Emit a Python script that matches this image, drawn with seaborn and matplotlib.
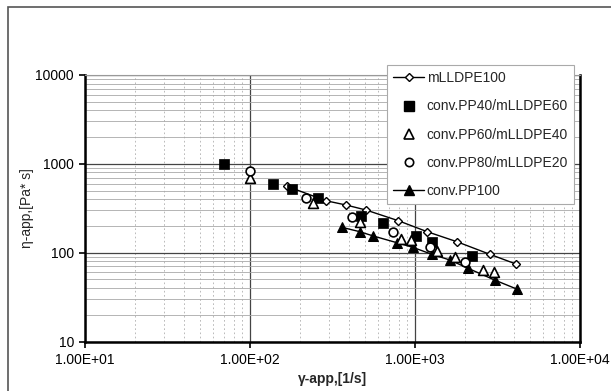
import matplotlib
matplotlib.use("Agg")
import matplotlib.pyplot as plt
from matplotlib.lines import Line2D
from matplotlib.patches import Rectangle
from matplotlib.ticker import LogLocator, FixedLocator, FuncFormatter
import numpy as np
import pandas as pd
import seaborn as sns

# Apparent shear rate [1/s] and apparent viscosity [Pa*s] per blend
rate_mlldpe100 = [167, 289, 382, 505, 792, 1187, 1791, 2848, 4093]
visc_mlldpe100 = [560, 384, 344, 302, 229, 172, 133, 95.7, 74.5]

rate_pp40 = [70, 138, 179, 259, 470, 637, 1014, 1262, 2203]
visc_pp40 = [1000, 590, 520, 415, 260, 214, 154, 133, 92]

rate_pp60 = [100, 240, 464, 822, 942, 1354, 1746, 2571, 3012]
visc_pp60 = [700, 365, 223, 141, 139, 104, 88.5, 63.7, 61]

rate_pp80 = [100, 218, 413, 733, 1233, 2010]
visc_pp80 = [820, 408, 255, 169, 116, 78.8]

rate_pp100 = [360, 464, 559, 782, 968, 1262, 1629, 2103, 3055, 4130]
visc_pp100 = [193, 172, 154, 129, 115, 96, 82.6, 66.5, 49, 39]

series_names = ["mLLDPE100", "conv.PP40/mLLDPE60", "conv.PP60/mLLDPE40",
                "conv.PP80/mLLDPE20", "conv.PP100"]

x_ticks = [1e1, 1e2, 1e3, 1e4]
x_tick_labels = ["1.00E+01", "1.00E+02", "1.00E+03", "1.00E+04"]
y_ticks = [10, 100, 1000, 10000]
y_tick_labels = ["10", "100", "1000", "10000"]

sns.set_theme(style="white")
plt.rcParams["font.family"] = ["Liberation Sans", "DejaVu Sans"]

fig = plt.figure(figsize=(6.11, 3.91), dpi=100)
ax = fig.add_axes([85 / 611, 1 - 341.5 / 391, 495 / 611, 266.5 / 391])

def frame(x, y, name):
    return pd.DataFrame({"rate": x, "visc": y, "series": name})

df1 = frame(rate_mlldpe100, visc_mlldpe100, series_names[0])
df2 = frame(rate_pp40, visc_pp40, series_names[1])
df3 = frame(rate_pp60, visc_pp60, series_names[2])
df4 = frame(rate_pp80, visc_pp80, series_names[3])
df5 = frame(rate_pp100, visc_pp100, series_names[4])

ax.set_xscale("log")
ax.set_yscale("log")

sns.lineplot(data=df1, x="rate", y="visc", ax=ax, color="black", lw=1.0,
             marker="D", markersize=4.5, markerfacecolor="white",
             markeredgecolor="black", markeredgewidth=1.0, zorder=5,
             sort=False, estimator=None)
sns.lineplot(data=df5, x="rate", y="visc", ax=ax, color="black", lw=1.0,
             marker="^", markersize=7, markerfacecolor="black",
             markeredgecolor="black", zorder=5, sort=False, estimator=None)
sns.scatterplot(data=df2, x="rate", y="visc", ax=ax, marker="s", s=60,
                color="black", edgecolor="black", linewidth=0.5, zorder=6)
sns.scatterplot(data=df3, x="rate", y="visc", ax=ax, marker="^", s=50,
                facecolor="white", edgecolor="black", linewidth=1.2, zorder=6)
sns.scatterplot(data=df4, x="rate", y="visc", ax=ax, marker="o", s=40,
                facecolor="white", edgecolor="black", linewidth=1.2, zorder=6)

ax.set_xlim(1e1, 1e4)
ax.set_ylim(10, 10000)

ax.xaxis.set_major_locator(FixedLocator(x_ticks))
ax.xaxis.set_major_formatter(FuncFormatter(lambda v, p: x_tick_labels[x_ticks.index(v)] if v in x_ticks else ""))
ax.yaxis.set_major_locator(FixedLocator(y_ticks))
ax.yaxis.set_major_formatter(FuncFormatter(lambda v, p: y_tick_labels[y_ticks.index(v)] if v in y_ticks else ""))
ax.xaxis.set_minor_locator(LogLocator(base=10, subs=np.arange(2, 10)))
ax.yaxis.set_minor_locator(LogLocator(base=10, subs=np.arange(2, 10)))

ax.grid(which="major", axis="both", color="#444444", lw=0.9)
ax.grid(which="minor", axis="y", color="#a8a8a8", lw=0.6)
ax.grid(which="minor", axis="x", color="#b0b0b0", lw=0.6, linestyle=(0, (2, 3)))

ax.tick_params(which="major", direction="out", length=4, width=1.2,
               color="black", labelsize=10, labelcolor="black", pad=4,
               bottom=True, left=True)
ax.tick_params(which="minor", length=0)

for side in ["left", "bottom", "right"]:
    ax.spines[side].set_color("black")
    ax.spines[side].set_linewidth(1.8)
ax.spines["top"].set_color("#999999")
ax.spines["top"].set_linewidth(0.8)

ax.set_xlabel("γ-app,[1/s]", fontsize=10, fontweight="bold", labelpad=4)
ax.set_ylabel("η-app,[Pa* s]", fontsize=10, labelpad=1)

handles = [
    Line2D([], [], color="black", lw=1.0, marker="D", markersize=4.5,
           markerfacecolor="white", markeredgecolor="black"),
    Line2D([], [], lw=0, marker="s", markersize=7, color="black"),
    Line2D([], [], lw=0, marker="^", markersize=7, markerfacecolor="white",
           markeredgecolor="black", markeredgewidth=1.2),
    Line2D([], [], lw=0, marker="o", markersize=6, markerfacecolor="white",
           markeredgecolor="black", markeredgewidth=1.2),
    Line2D([], [], color="black", lw=1.0, marker="^", markersize=7,
           markerfacecolor="black", markeredgecolor="black"),
]
leg = fig.legend(handles, series_names, loc="upper left",
                 bbox_to_anchor=(387 / 611, 1 - 65 / 391),
                 bbox_transform=fig.transFigure, fontsize=10,
                 frameon=True, fancybox=False, framealpha=1,
                 edgecolor="#aaaaaa", handlelength=2.2, handletextpad=0.2,
                 labelspacing=1.02, borderpad=0.45, borderaxespad=0)
leg.get_frame().set_linewidth(0.8)
leg.set_zorder(10)

# outer border around the chart area
fig.patches.append(Rectangle((8 / 611, -0.2), 1.2, 1.2 - 7 / 391,
                             transform=fig.transFigure, fill=False,
                             edgecolor="#555555", lw=1.2))

fig.savefig("out.png", dpi=100)
